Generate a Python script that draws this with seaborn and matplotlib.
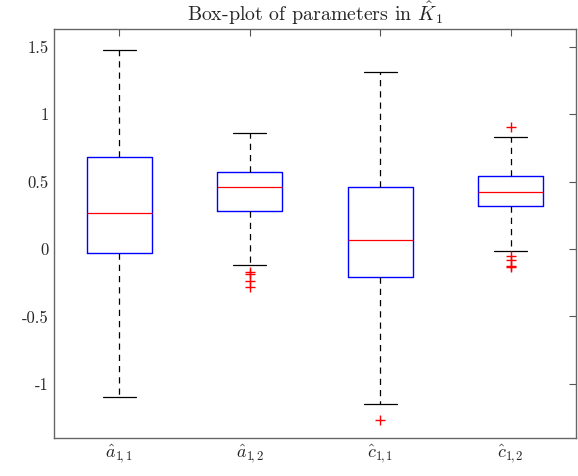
import matplotlib
matplotlib.use("Agg")
import matplotlib.pyplot as plt
import seaborn as sns

# Data
labels = [r"$\hat{a}_{1\!,1}$", r"$\hat{a}_{1\!,2}$", r"$\hat{c}_{1\!,1}$", r"$\hat{c}_{1\!,2}$"]
medians = [0.27, 0.46, 0.065, 0.42]
q1 = [-0.03, 0.285, -0.21, 0.32]
q3 = [0.68, 0.575, 0.46, 0.545]
whislo = [-1.10, -0.12, -1.15, -0.015]
whishi = [1.48, 0.86, 1.31, 0.83]
fliers = [[], [-0.17, -0.185, -0.235, -0.28], [-1.27], [0.905, -0.055, -0.08, -0.125, -0.13]]
yticks = [-1, -0.5, 0, 0.5, 1, 1.5]
yticklabels = ["-1", "-0.5", "0", "0.5", "1", "1.5"]

sns.set_style("white")
plt.rcParams["font.family"] = ["cmr10", "DejaVu Serif"]
plt.rcParams["mathtext.fontset"] = "cm"
plt.rcParams["axes.unicode_minus"] = False

fig = plt.figure(figsize=(5.78, 4.76), dpi=100)
ax = fig.add_axes([0.0934, 0.0798, 0.9031, 0.8592])

stats = []
for i in range(len(labels)):
    stats.append(dict(med=medians[i], q1=q1[i], q3=q3[i], whislo=whislo[i],
                      whishi=whishi[i], fliers=fliers[i], label=labels[i]))

ax.bxp(stats, positions=[1, 2, 3, 4], widths=0.5, showfliers=True,
       boxprops=dict(color="blue", linewidth=1.0),
       medianprops=dict(color="red", linewidth=0.9),
       whiskerprops=dict(color="black", linestyle=(0, (5, 4)), linewidth=0.9),
       capprops=dict(color="black", linewidth=0.9),
       flierprops=dict(marker="+", markeredgecolor="red", markersize=7, linestyle="none"),
       capwidths=0.25)

ax.set_xlim(0.5, 4.5)
ax.set_ylim(-1.402, 1.632)
ax.set_yticks(yticks)
ax.set_yticklabels(yticklabels)
ax.set_xticks([1, 2, 3, 4])
ax.set_xticklabels(labels)
ax.tick_params(direction="in", top=True, right=True, length=5, labelsize=12, color="#555555")
ax.tick_params(axis="x", labelsize=13)
for s in ax.spines.values():
    s.set_color("#666666")
    s.set_linewidth(1.0)
ax.set_title(r"Box-plot of parameters in $\hat{K}_1$", fontsize=14.3)

fig.savefig("out.png", dpi=100)
